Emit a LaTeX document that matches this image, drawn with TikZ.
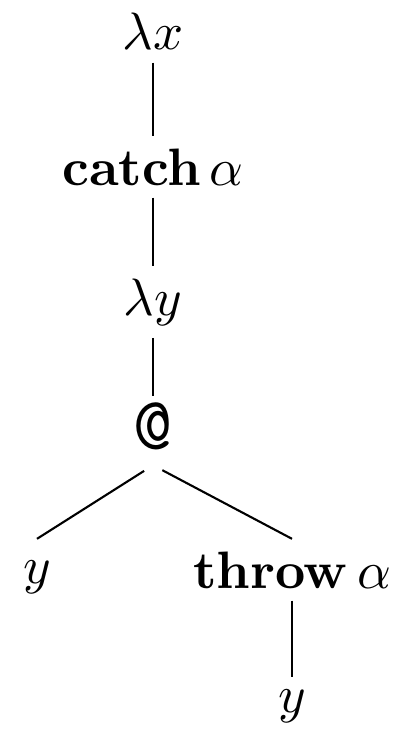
\documentclass[tikz,border=0pt]{standalone}
\usepackage{amsmath,amssymb}
\usepackage{tikz}
\usetikzlibrary{positioning}

\begin{document}
\begin{tikzpicture}[x=0.19pt,y=-0.19pt,
  term/.style={inner sep=2.2pt,anchor=base},
  edge/.style={line width=0.4pt}]
\useasboundingbox (0,0) rectangle (408,733);
% tree nodes
\node[term] (lx) at (153,50){$\lambda x$};
\node[term] (catch) at (153,185){$\mathbf{catch}\,\alpha$};
\node[term] (ly) at (153,315){$\lambda y$};
\node[term,inner sep=1pt] (app) at (153,449){\Large\texttt{@}};
\node[term] (yl) at (37,583){$y$};
\node[term] (throw) at (292,588){$\mathbf{throw}\,\alpha$};
\node[term] (yr) at (292,712){$y$};
\coordinate (fork) at ([yshift=-1.8pt]app.south);
% edges
\draw[edge] (lx) -- (catch);
\draw[edge] (catch) -- (ly);
\draw[edge] (ly) -- (app);
\draw[edge,shorten <=2pt] (fork) -- (yl.north |- throw.north);
\draw[edge,shorten <=2pt] (fork) -- (throw.north);
\draw[edge] (throw) -- (yr);
\end{tikzpicture}
\end{document}
